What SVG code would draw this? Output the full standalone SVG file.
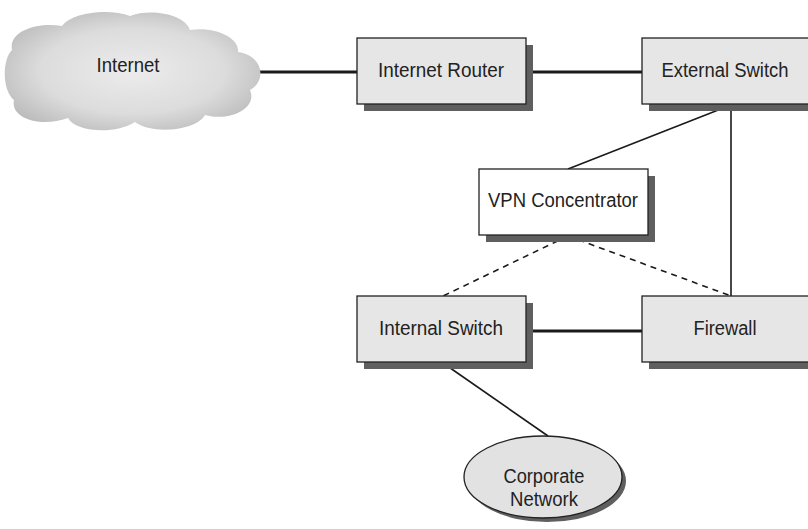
<svg xmlns="http://www.w3.org/2000/svg" width="808" height="529" viewBox="0 0 808 529">
<defs>
<radialGradient id="cg" cx="0.5" cy="0.5" r="0.6">
<stop offset="0" stop-color="#ececec"/>
<stop offset="0.6" stop-color="#dcdcdc"/>
<stop offset="1" stop-color="#b8b8b8"/>
</radialGradient>
</defs>
<style>
.box{fill:#e6e6e6;stroke:#222;stroke-width:1.3}
.wbox{fill:#fff;stroke:#222;stroke-width:1.3}
.sh{fill:#5f5f5f}
.t{font-family:"Liberation Sans",Arial,sans-serif;font-size:20px;fill:#222;text-anchor:middle}
.thick{stroke:#1a1a1a;stroke-width:3;fill:none}
.thin{stroke:#1a1a1a;stroke-width:1.6;fill:none}
.dash{stroke:#1a1a1a;stroke-width:1.6;fill:none;stroke-dasharray:6,5}
</style>
<g id="connectors">
<line class="thick" x1="256" y1="72" x2="357" y2="72"/>
<line class="thick" x1="526" y1="72" x2="642" y2="72"/>
<line class="thin" x1="731" y1="105" x2="731" y2="296"/>
<line class="thin" x1="731" y1="105" x2="568" y2="169"/>
<line class="dash" x1="568" y1="236" x2="443" y2="296"/>
<line class="dash" x1="568" y1="236" x2="731" y2="296"/>
<line class="thick" x1="526" y1="331" x2="642" y2="331"/>
<line class="thin" x1="443" y1="363" x2="548" y2="436"/>
</g>
<g id="internet">
<path fill="url(#cg)" d="M 12,50 C 8,30 40,22 62,26 C 72,12 110,8 130,16 C 150,8 185,14 190,30 C 215,26 240,38 238,52 C 262,55 268,80 250,90 C 258,108 230,122 205,115 C 195,132 150,134 135,122 C 115,135 75,132 68,118 C 40,128 10,118 14,100 C 2,90 2,60 12,50 Z"/>
<text class="t" x="128" y="72" textLength="63" lengthAdjust="spacingAndGlyphs">Internet</text>
</g>
<g id="internet-router">
<rect class="sh" x="364" y="45" width="169" height="66"/>
<rect class="box" x="357" y="38" width="169" height="66"/>
<text class="t" x="441" y="77" textLength="126" lengthAdjust="spacingAndGlyphs">Internet Router</text>
</g>
<g id="external-switch">
<rect class="sh" x="649" y="45" width="166" height="66"/>
<rect class="box" x="642" y="38" width="170" height="66"/>
<text class="t" x="725" y="77" textLength="127" lengthAdjust="spacingAndGlyphs">External Switch</text>
</g>
<g id="vpn-concentrator">
<rect class="sh" x="486" y="176" width="169" height="66"/>
<rect class="wbox" x="479" y="169" width="169" height="66"/>
<text class="t" x="563" y="207" textLength="150" lengthAdjust="spacingAndGlyphs">VPN Concentrator</text>
</g>
<g id="internal-switch">
<rect class="sh" x="364" y="303" width="169" height="66"/>
<rect class="box" x="357" y="296" width="169" height="66"/>
<text class="t" x="441" y="335" textLength="124" lengthAdjust="spacingAndGlyphs">Internal Switch</text>
</g>
<g id="firewall">
<rect class="sh" x="649" y="303" width="166" height="66"/>
<rect class="box" x="642" y="296" width="170" height="66"/>
<text class="t" x="725" y="335" textLength="63" lengthAdjust="spacingAndGlyphs">Firewall</text>
</g>
<g id="corporate-network">
<ellipse class="sh" cx="547" cy="481" rx="79" ry="41"/>
<ellipse cx="543" cy="477" rx="79" ry="41" fill="#e2e2e2" stroke="#222" stroke-width="1.3"/>
<text class="t" x="544" y="483" textLength="81" lengthAdjust="spacingAndGlyphs">Corporate</text>
<text class="t" x="544" y="506" textLength="68" lengthAdjust="spacingAndGlyphs">Network</text>
</g>
</svg>
